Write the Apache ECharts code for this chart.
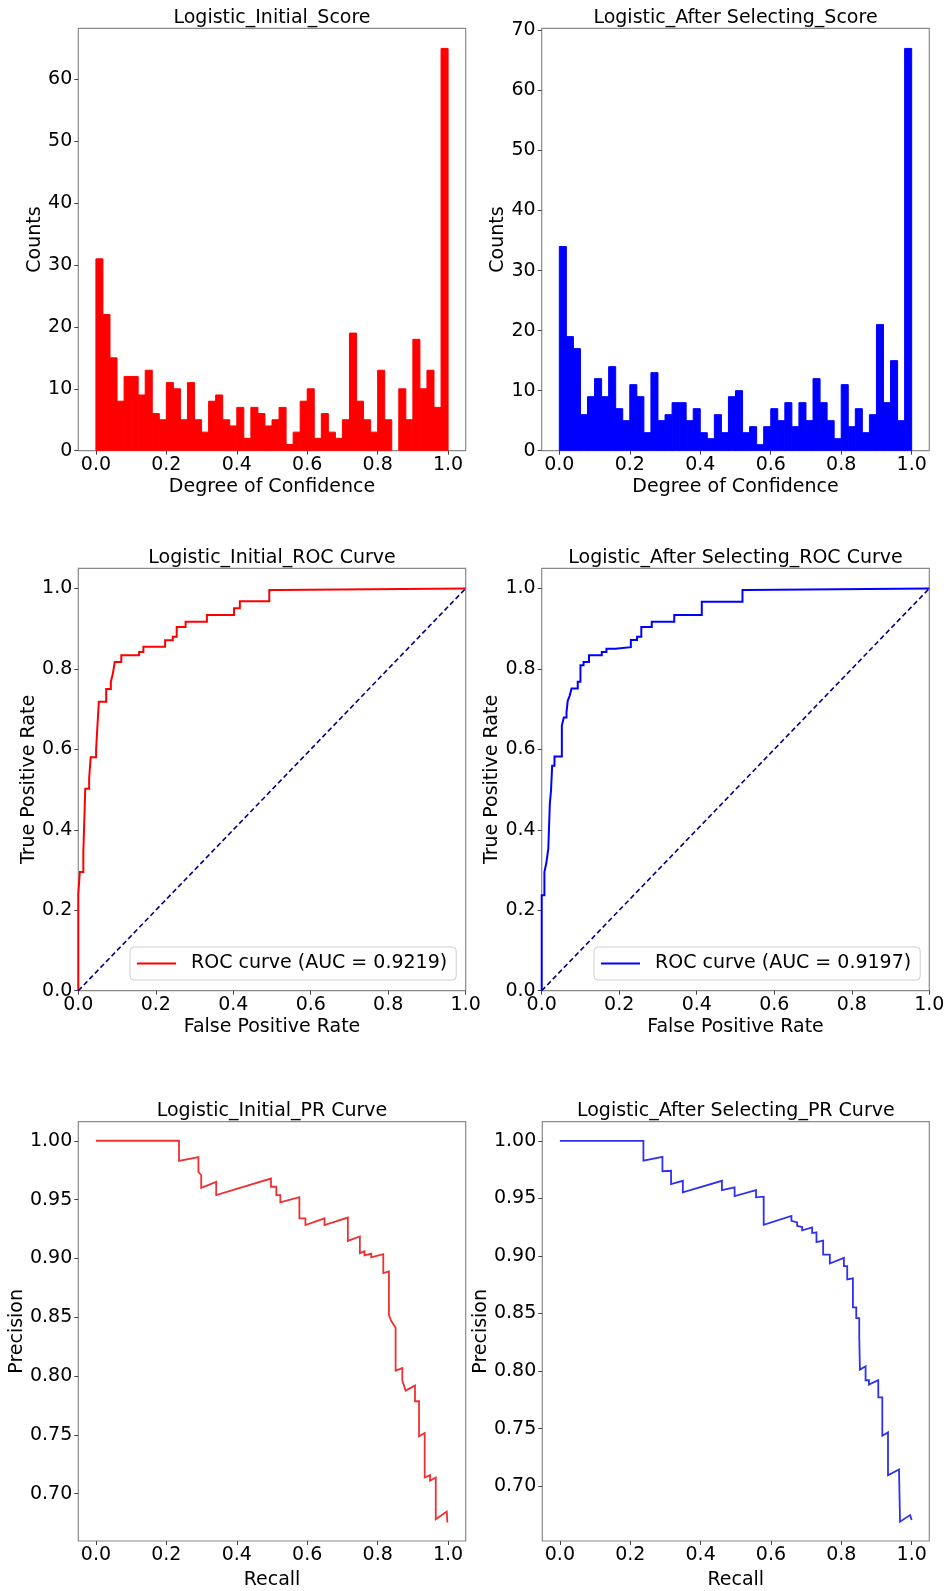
<!DOCTYPE html>
<html><head><meta charset="utf-8">
<script src="https://cdn.jsdelivr.net/npm/echarts@6/dist/echarts.min.js"></script>
<style>html,body{margin:0;padding:0;background:#fff}#c{width:949px;height:1591px}</style>
</head><body><div id="c"></div>
<script>
// ---------- DATA ----------
const binWidth = 0.02;
const initialCounts = [31,22,15,8,12,12,9,13,6,5,11,10,5,11,5,3,8,9,5,4,7,2,7,6,4,5,7,1,3,8,10,2,6,3,2,5,19,8,5,3,13,5,0,10,5,18,10,13,7,65];
const afterCounts   = [34,19,17,6,9,12,9,14,7,5,11,9,3,13,5,6,8,8,5,7,3,2,6,3,9,10,3,4,1,4,7,5,8,4,8,5,12,8,5,2,11,4,7,3,6,21,8,15,5,67];

const rocInitialFpr = [0,0,0.004,0.013,0.018,0.028,0.032,0.046,0.049,0.053,0.072,0.084,0.089,0.094,0.111,0.157,0.168,0.224,0.244,0.254,0.277,0.332,0.402,0.417,0.493,0.516,1.0];
const rocInitialTpr = [0,0.241,0.295,0.345,0.502,0.528,0.58,0.6,0.652,0.718,0.75,0.768,0.787,0.817,0.834,0.842,0.855,0.871,0.88,0.904,0.917,0.934,0.951,0.968,0.996,1.0,1.0];
const rocAfterFpr = [0,0,0.007,0.012,0.017,0.021,0.024,0.027,0.033,0.052,0.057,0.064,0.067,0.072,0.077,0.093,0.1,0.108,0.122,0.155,0.167,0.19,0.23,0.246,0.257,0.284,0.342,0.413,0.518,0.529,1.0];
const rocAfterTpr = [0,0.237,0.295,0.318,0.353,0.465,0.497,0.559,0.582,0.659,0.679,0.692,0.72,0.733,0.751,0.768,0.809,0.817,0.834,0.842,0.85,0.854,0.872,0.88,0.904,0.917,0.934,0.967,0.996,1.0,1.0];

const prInitialRecall = [0,0.236,0.236,0.291,0.291,0.299,0.299,0.3416,0.3416,0.497,0.497,0.5123,0.5123,0.5237,0.5237,0.5778,0.5778,0.5949,0.5949,0.649,0.649,0.7154,0.7154,0.7495,0.7495,0.7628,0.7628,0.7818,0.7818,0.816,0.816,0.832,0.832,0.8387,0.851,0.851,0.870,0.870,0.8795,0.906,0.906,0.9175,0.9175,0.9336,0.9336,0.9488,0.9488,0.965,0.965,0.9962,0.998];
const prInitialPrecision = [1.0,1.0,0.9828,0.9862,0.9735,0.9707,0.96,0.9651,0.9538,0.9679,0.9609,0.9609,0.9538,0.9538,0.9476,0.9521,0.9341,0.9341,0.9284,0.9341,0.9284,0.9347,0.9149,0.9186,0.9045,0.906,0.9026,0.904,0.9009,0.9037,0.8876,0.889,0.8519,0.8468,0.8411,0.8046,0.8068,0.7961,0.7876,0.7919,0.7786,0.7786,0.7488,0.7516,0.7138,0.7158,0.711,0.7138,0.6783,0.6848,0.6755];
const prAfterRecall = [0,0.2374,0.2374,0.2915,0.2915,0.316,0.316,0.3495,0.3495,0.4606,0.4606,0.4966,0.4966,0.5575,0.5575,0.5793,0.5793,0.6581,0.6581,0.6743,0.6743,0.6885,0.6885,0.717,0.717,0.7293,0.7293,0.7483,0.7483,0.7673,0.7673,0.8072,0.8072,0.8167,0.8167,0.8329,0.8329,0.8424,0.8424,0.8509,0.8509,0.8528,0.8528,0.8689,0.8689,0.8784,0.8784,0.905,0.905,0.9164,0.9164,0.9326,0.9326,0.9639,0.9668,0.9668,0.9953,1.0];
const prAfterPrecision = [1.0,1.0,0.9828,0.986,0.9736,0.974,0.9624,0.9653,0.9552,0.9653,0.9572,0.9595,0.952,0.9572,0.9509,0.9515,0.927,0.9348,0.9305,0.9291,0.9262,0.9251,0.9222,0.9248,0.9199,0.9205,0.9121,0.9133,0.9012,0.9012,0.8935,0.8984,0.8912,0.8912,0.8797,0.8806,0.8553,0.8553,0.8461,0.8461,0.83,0.8295,0.8013,0.8042,0.7921,0.7921,0.7884,0.7921,0.7772,0.7772,0.7439,0.7468,0.7095,0.7146,0.7146,0.6693,0.675,0.6707];

const diagonal = [[0,0],[1,1]];

const histXTicks = [0,0.2,0.4,0.6,0.8,1.0];
const initialYTicks = [0,10,20,30,40,50,60];
const afterYTicks = [0,10,20,30,40,50,60,70];
const rocTicks = [0,0.2,0.4,0.6,0.8,1.0];
const prXTicks = [0,0.2,0.4,0.6,0.8,1.0];
const prYTicks = [0.70,0.75,0.80,0.85,0.90,0.95,1.00];

const titles = ['Logistic_Initial_Score','Logistic_After Selecting_Score','Logistic_Initial_ROC Curve','Logistic_After Selecting_ROC Curve','Logistic_Initial_PR Curve','Logistic_After Selecting_PR Curve'];
const aucInitial = 'ROC curve (AUC = 0.9219)';
const aucAfter = 'ROC curve (AUC = 0.9197)';

// ---------- LAYOUT ----------
const FONT = 'DejaVu Sans';
const FS = 19;
const grids = [
  {left:78.3, top:28.3, width:387.4, height:422.4},
  {left:541.7, top:28.3, width:387.6, height:422.4},
  {left:78.3, top:568.3, width:387.4, height:422.4},
  {left:541.7, top:568.3, width:387.6, height:422.4},
  {left:78.3, top:1121.7, width:387.4, height:421.6},
  {left:542.3, top:1121.7, width:387.0, height:421.6}
].map(g => Object.assign({show:true, borderColor:'#8a8a8a', borderWidth:1.2, backgroundColor:'#fff', containLabel:false}, g));

const f0 = v => String(Math.round(v));
const f1 = v => v.toFixed(1);
const f2 = v => v.toFixed(2);

function axis(gi, min, max, ticks, fmt, name, nameGap, isY) {
  return {
    type:'value', gridIndex:gi, min:min, max:max, name:name, nameLocation:'middle', nameGap:nameGap,
    position: isY ? 'left' : 'bottom',
    nameTextStyle:{fontFamily:FONT, fontSize:FS, color:'#000'},
    axisLine:{show:false, onZero:false}, splitLine:{show:false},
    axisTick:{show:true, length:4, inside:false, customValues:ticks, lineStyle:{color:'#444', width:1}},
    axisLabel:{show:true, customValues:ticks, formatter:fmt, margin:isY ? 6 : 5, fontFamily:FONT, fontSize:FS, color:'#000'}
  };
}

const xAxes = [
  axis(0, -0.05, 1.05, histXTicks, f1, 'Degree of Confidence', 27, false),
  axis(1, -0.05, 1.05, histXTicks, f1, 'Degree of Confidence', 27, false),
  axis(2, 0, 1, rocTicks, f1, 'False Positive Rate', 27, false),
  axis(3, 0, 1, rocTicks, f1, 'False Positive Rate', 27, false),
  axis(4, -0.05, 1.05, prXTicks, f1, 'Recall', 30, false),
  axis(5, -0.05, 1.05, prXTicks, f1, 'Recall', 30, false)
];
const yAxes = [
  axis(0, 0, 68.25, initialYTicks, f0, 'Counts', 31, true),
  axis(1, 0, 70.35, afterYTicks, f0, 'Counts', 31, true),
  axis(2, 0, 1.05, rocTicks, f1, 'True Positive Rate', 38, true),
  axis(3, 0, 1.05, rocTicks, f1, 'True Positive Rate', 37, true),
  axis(4, 0.6598, 1.0162, prYTicks, f2, 'Precision', 48, true),
  axis(5, 0.6525, 1.0166, prYTicks, f2, 'Precision', 47, true)
];

function histSeries(idx, counts, color) {
  return {
    type:'custom', xAxisIndex:idx, yAxisIndex:idx, silent:true, clip:true,
    data: counts.map((c, i) => [i * binWidth, (i + 1) * binWidth, c]),
    encode:{x:[0,1], y:2},
    renderItem: function (params, api) {
      const h = api.value(2);
      if (!h) return null;
      const a = api.coord([api.value(0), h]);
      const b = api.coord([api.value(1), 0]);
      return {type:'rect', shape:{x:a[0], y:a[1], width:b[0]-a[0], height:b[1]-a[1]},
              style:{fill:color, stroke:color, lineWidth:1}};
    }
  };
}
const zip = (a, b) => a.map((v, i) => [v, b[i]]);
// ROC corner points joined as a staircase: move right at the old TPR, then up
function staircase(fpr, tpr) {
  const out = [[fpr[0], tpr[0]]];
  for (let i = 1; i < fpr.length; i++) {
    out.push([fpr[i], tpr[i - 1]]);
    out.push([fpr[i], tpr[i]]);
  }
  return out;
}
function lineSeries(idx, name, pts, color, width) {
  return {type:'line', name:name, xAxisIndex:idx, yAxisIndex:idx, data:pts, symbol:'none', showSymbol:false,
          lineStyle:{color:color, width:width, join:'miter'}, itemStyle:{color:color}, silent:true, clip:true, z:3};
}
function diagSeries(idx) {
  return {type:'line', name:'diag'+idx, xAxisIndex:idx, yAxisIndex:idx, data:diagonal, symbol:'none',
          lineStyle:{color:'#000080', width:1.6, type:[5,3]}, silent:true, z:4};
}

const titleTops = [8.7, 8.7, 548.7, 548.7, 1102, 1102];
const titleOpts = titles.map((t, i) => ({
  text:t, left:grids[i].left + grids[i].width/2, top:titleTops[i], textAlign:'center', padding:0,
  textStyle:{fontFamily:FONT, fontSize:FS, fontWeight:'normal', color:'#000'}
}));

function legendOpt(name, left, color) {
  return {data:[{name:name, icon:'rect', itemStyle:{color:color}}], left:left, top:947, orient:'horizontal',
          padding:[6,9,6,7], itemWidth:39, itemHeight:2,
          borderColor:'#cfcfcf', borderWidth:1, borderRadius:4, backgroundColor:'rgba(255,255,255,0.85)',
          selectedMode:false,
          textStyle:{fontFamily:FONT, fontSize:FS, color:'#000', padding:[0,0,0,10], lineHeight:21}};
}

const option = {
  animation:false,
  backgroundColor:'#fff',
  title:titleOpts,
  grid:grids,
  xAxis:xAxes,
  yAxis:yAxes,
  legend:[legendOpt(aucInitial, 130, '#ff0000'), legendOpt(aucAfter, 594, '#0000ff')],
  series:[
    histSeries(0, initialCounts, '#ff0000'),
    histSeries(1, afterCounts, '#0000ff'),
    lineSeries(2, aucInitial, staircase(rocInitialFpr, rocInitialTpr), '#ff0000', 2),
    diagSeries(2),
    lineSeries(3, aucAfter, staircase(rocAfterFpr, rocAfterTpr), '#0000ff', 2),
    diagSeries(3),
    lineSeries(4, 'PR initial', zip(prInitialRecall, prInitialPrecision), '#f03030', 1.8),
    lineSeries(5, 'PR after', zip(prAfterRecall, prAfterPrecision), '#3030f0', 1.8)
  ]
};
const chart = echarts.init(document.getElementById('c'), null, {renderer:'canvas'});
chart.setOption(option);
</script>
</body></html>
